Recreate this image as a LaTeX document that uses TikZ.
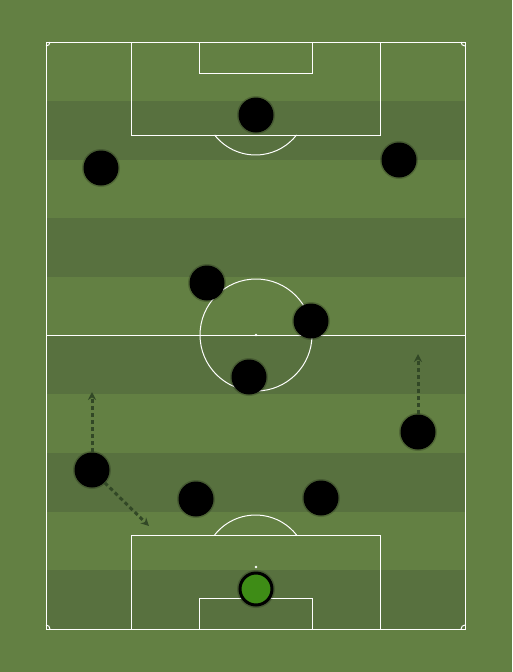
\documentclass[tikz,border=0pt]{standalone}
\usepackage{tikz}
\usetikzlibrary{arrows.meta}

\definecolor{grassLight}{RGB}{99,128,67}
\definecolor{grassDark}{RGB}{88,113,63}
\definecolor{keeperGreen}{RGB}{62,140,22}
\definecolor{runColor}{RGB}{50,72,38}

\begin{document}
\begin{tikzpicture}[x=1pt,y=-1pt,line width=1pt]
            \fill[grassLight] (0,0) rectangle (512,672);
            \useasboundingbox (0,0) rectangle (512,672);
            % stripes
            \foreach \y in {101,218,335,453,570}
                \fill[grassDark] (46,\y) rectangle (465,\y+59);

            \begin{scope}[draw=white]
                \draw (46,42) rectangle (465,629);
                \draw (46,335) -- (465,335);
                \draw (256,335) circle (56);
                \fill[white] (256,335) circle (1.3);
                % top end
                \draw (131,42) rectangle (380,135);
                \draw (199,42) rectangle (312,73);
                \draw (214.6,135) arc (142:38:52);
                % bottom end
                \draw (131,535) rectangle (380,629);
                \draw (199,598) rectangle (312,629);
                \draw (214.6,535) arc (218:322:52);
                \fill[white] (256,567) circle (1.3);
                % corners
                \draw (50,42) arc (0:90:4);
                \draw (461,42) arc (180:90:4);
                \draw (50,629) arc (0:-90:4);
                \draw (461,629) arc (180:270:4);
            \end{scope}

            % soft shadows
            \foreach \p in {(256,589),(196,499),(321,498),(92,470),(418,432),(249,377),(311,321),(207,283),(101,168),(399,160),(256,115)}
                \fill[black,opacity=0.2] \p circle (19);

            \begin{scope}[every node/.style={fill=black,circle,minimum size=35pt,inner sep=0pt}]
                \node (1) at (256,589) [fill=keeperGreen,draw=black,line width=3pt,minimum size=32pt] {};
                \node (2) at (196,499) {};
                \node (3) at (321,498) {};
                \node (4) at (92,470) {};
                \node (5) at (418,432) {};
                \node (6) at (249,377) {};
                \node (7) at (311,321) {};
                \node (8) at (207,283) {};
                \node (9) at (101,168) {};
                \node (10) at (399,160) {};
                \node (11) at (256,115) {};
            \end{scope}

            \coordinate (run1) at (92,391);
            \coordinate (run2) at (149,526);
            \coordinate (run3) at (418,353);
            \begin{scope}[every edge/.style={draw,runColor,line width=3pt,dash pattern=on 4pt off 3pt,-{Stealth[length=8pt,width=8pt]}}]
                \path (4.north) edge ([yshift=-1pt]run1);
                \path (4.south east) edge (run2);
                \path (5.north) edge ([yshift=-1pt]run3);
            \end{scope}
        \end{tikzpicture}
\end{document}
